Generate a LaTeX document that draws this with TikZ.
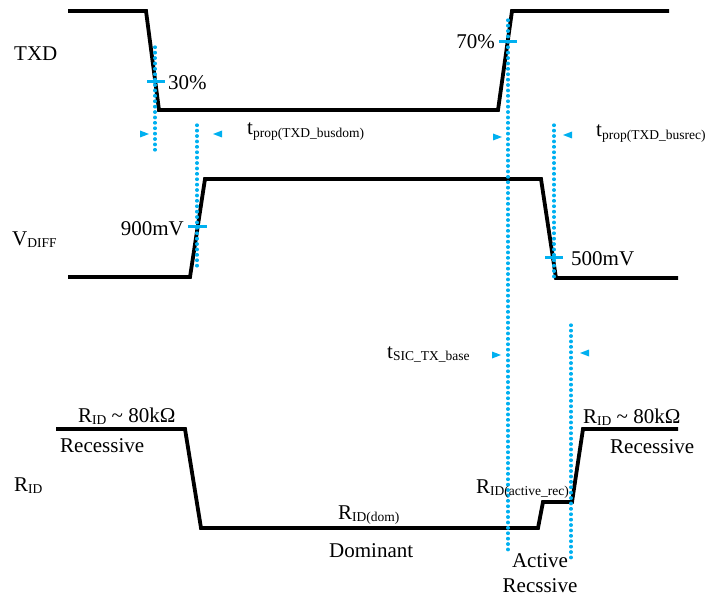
\documentclass[tikz,border=0pt]{standalone}
\usepackage{fontspec}
\setmainfont{Liberation Serif}
\definecolor{sky}{RGB}{0,176,240}
\newcommand\subtxt[1]{\raisebox{-0.25ex}{\fontsize{13.5}{13.5}\selectfont #1}}

\begin{document}
\begin{tikzpicture}[x=1pt,y=-1pt,
  wave/.style={line width=3.8pt},
  marker/.style={draw=sky, line width=3.3pt, dash pattern=on 0.5pt off 4.9pt, line cap=round},
  tick/.style={draw=sky, line width=3pt},
  lbl/.style={inner sep=0pt, font=\fontsize{21}{23}\selectfont}]
  \useasboundingbox (0,0) rectangle (707,599);

  % waveforms
  \draw[wave] (68,11) -- (146,11) -- (159,110) -- (498,110) -- (512,11) -- (669,11);
  \draw[wave] (68,277) -- (190,277) -- (205,179) -- (541,179) -- (556,278) -- (678,278);
  \draw[wave] (56,429) -- (185,429) -- (201,528) -- (538,528) -- (543,502)
    -- (572,502) -- (583,429) -- (678,429);

  % dotted time markers
  \foreach \x/\ya/\yb in {155/47/150, 197/125/266, 508/20/552, 554/125/280, 571/325/562}
    \draw[marker] (\x,\ya) -- (\x,\yb);

  % threshold ticks
  \draw[tick] (147,82) -- (165,82);
  \draw[tick] (188,226) -- (207,226);
  \draw[tick] (499,42) -- (517,42);
  \draw[tick] (545,257) -- (563,257);

  % interval pointers
  \foreach \x/\y/\d in {149/134/1, 213/134/-1, 502/137/1, 563/135/-1, 501/355/1, 580/353/-1}
    \fill[sky] (\x,\y) -- ++(-9*\d,-3.5) -- ++(0,7) -- cycle;

  % signal names
  \node[lbl, anchor=base west] (txd) at (14,61) {TXD};
  \node[lbl, anchor=base west] (vdiff) at (12,245) {V\subtxt{DIFF}};
  \node[lbl, anchor=base west] (rid) at (14,491) {R\subtxt{ID}};

  % levels
  \node[lbl, anchor=base west] (p30) at (168,90) {30\%};
  \node[lbl, anchor=base east] (p70) at (495,49) {70\%};
  \node[lbl, anchor=base east] (v900) at (184,235) {900mV};
  \node[lbl, anchor=base west] (v500) at (571,265) {500mV};

  % timing parameters
  \node[lbl, anchor=base west] (tdom) at (247,135) {t\subtxt{prop(TXD\_busdom)}};
  \node[lbl, anchor=base west] (trec) at (596,137) {t\subtxt{prop(TXD\_busrec)}};
  \node[lbl, anchor=base west] (tsic) at (387,358) {t\subtxt{SIC\_TX\_base}};

  % R_ID states
  \node[lbl, anchor=base west] (rrecl) at (78,422) {R\subtxt{ID} \textasciitilde{} 80kΩ};
  \node[lbl, anchor=base west] (recl) at (60,452) {Recessive};
  \node[lbl, anchor=base west] (rdom) at (338,519) {R\subtxt{ID(dom)}};
  \node[lbl, anchor=base west] (dom) at (329,557) {Dominant};
  \node[lbl, anchor=base west] (ract) at (476,493) {R\subtxt{ID(active\_rec)}};
  \node[lbl, anchor=base] (act) at (540,567) {Active};
  \node[lbl, anchor=base] (actrec) at (540,592) {Recssive};
  \node[lbl, anchor=base west] (rrecr) at (583,423) {R\subtxt{ID} \textasciitilde{} 80kΩ};
  \node[lbl, anchor=base west] (recr) at (610,453) {Recessive};
\end{tikzpicture}
\end{document}
